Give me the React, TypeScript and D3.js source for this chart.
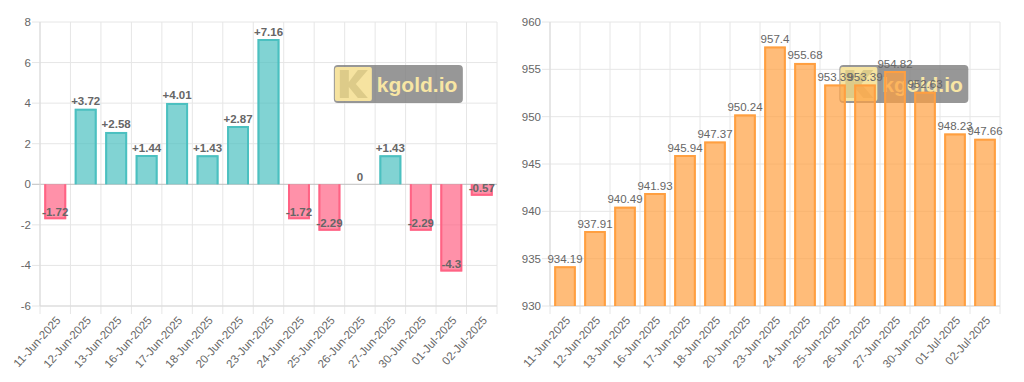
import React from "react";
import * as d3 from "d3";

const dates = [
  "11-Jun-2025", "12-Jun-2025", "13-Jun-2025", "16-Jun-2025", "17-Jun-2025",
  "18-Jun-2025", "20-Jun-2025", "23-Jun-2025", "24-Jun-2025", "25-Jun-2025",
  "26-Jun-2025", "27-Jun-2025", "30-Jun-2025", "01-Jul-2025", "02-Jul-2025",
];
const changes = [-1.72, 3.72, 2.58, 1.44, 4.01, 1.43, 2.87, 7.16, -1.72, -2.29, 0, 1.43, -2.29, -4.3, -0.57];
const prices = [934.19, 937.91, 940.49, 941.93, 945.94, 947.37, 950.24, 957.4, 955.68, 953.39, 953.39, 954.82, 952.63, 948.23, 947.66];
const changeTicks = [-6, -4, -2, 0, 2, 4, 6, 8];
const priceTicks = [930, 935, 940, 945, 950, 955, 960];

const FONT = "'Liberation Sans', Arial, Helvetica, sans-serif";
const GRID = "#e6e6e6";

type ChartProps = {
  x0: number; x1: number; y0: number; y1: number;
  values: number[]; ticks: number[]; domain: [number, number];
  colorFor: (v: number) => { fill: string; stroke: string };
  fmt: (v: number) => string; bold: boolean; zeroLine?: boolean;
};

function Watermark({ x, y }: { x: number; y: number }) {
  return (
    <g transform={`translate(${x},${y})`}>
      <rect x={0} y={0} width={129} height={38} rx={4} fill="#7d7d7d" opacity={0.8} />
      <rect x={1} y={2} width={37} height={34} rx={2} fill="#f6e3a0" />
      <path d="M6,5 L15,5 L15,17 L24,5 L34,5 L22,19 L34,33 L24,33 L15,22 L15,33 L6,33 Z" fill="#c9b877" opacity={0.55} />
      <text x={43} y={27} fontFamily={FONT} fontWeight="bold" fontSize={21} fill="#f8e6a4">kgold.io</text>
    </g>
  );
}

function BarChart(p: ChartProps) {
  const x = d3.scaleBand<string>().domain(dates).range([p.x0, p.x1]).paddingInner(0).paddingOuter(0);
  const y = d3.scaleLinear().domain(p.domain).range([p.y1, p.y0]);
  const bw = x.bandwidth();
  const barW = bw * 0.72;
  const base = y(Math.max(p.domain[0], Math.min(0, p.domain[1])));
  const edges = dates.map((d) => x(d)!).concat([p.x1]);
  const sw = 2;
  return (
    <g>
      {edges.map((ex, i) => (
        <line key={"v" + i} x1={ex} x2={ex} y1={p.y0} y2={p.y1 + 8} stroke={GRID} strokeWidth={1} />
      ))}
      {p.ticks.map((t) => (
        <line key={"h" + t} x1={p.x0 - 8} x2={p.x1} y1={y(t)} y2={y(t)}
          stroke={p.zeroLine && t === 0 ? "#bfbfbf" : GRID} strokeWidth={1} />
      ))}
      <line x1={p.x0} x2={p.x0} y1={p.y0} y2={p.y1} stroke="#d9d9d9" />
      <line x1={p.x0} x2={p.x1} y1={p.y1} y2={p.y1} stroke="#d9d9d9" />
      {p.ticks.map((t) => (
        <text key={"t" + t} x={p.x0 - 9} y={y(t)} dy="0.35em" textAnchor="end"
          fontFamily={FONT} fontSize={11.5} fill="#666">{t}</text>
      ))}
      {dates.map((d) => {
        const cx = x(d)! + bw / 2;
        return (
          <text key={"x" + d} transform={`translate(${cx + 3},${p.y1 + 12}) rotate(-48)`}
            textAnchor="end" dy="0.35em" fontFamily={FONT} fontSize={11.5} fill="#666">{d}</text>
        );
      })}
      <Watermark x={p.x0 + (p.x1 - p.x0) * 0.643} y={65} />
      {p.values.map((v, i) => {
        const bx = x(dates[i])! + (bw - barW) / 2;
        const yv = y(v);
        const top = Math.min(yv, base);
        const h = Math.abs(yv - base);
        const c = p.colorFor(v);
        if (h === 0) return null;
        const l = bx + sw / 2, r = bx + barW - sw / 2;
        const e = v >= 0 ? yv + sw / 2 : yv - sw / 2;
        return (
          <g key={"b" + i}>
            <rect x={bx} y={top} width={barW} height={h} fill={c.fill} />
            <path d={`M${l},${base} L${l},${e} L${r},${e} L${r},${base}`} fill="none" stroke={c.stroke} strokeWidth={sw} />
          </g>
        );
      })}
      {p.values.map((v, i) => (
        <text key={"l" + i} x={x(dates[i])! + bw / 2} y={y(v) - 7.5} dy="0.35em" textAnchor="middle"
          fontFamily={FONT} fontSize={11.5} fontWeight={p.bold ? "bold" : "normal"} fill="#666">{p.fmt(v)}</text>
      ))}
    </g>
  );
}

export default function App() {
  const fmtChange = (v: number) => (v > 0 ? "+" + v : String(v));
  return (
    <svg width={1024} height={382} style={{ position: "absolute", left: 0, top: 0, background: "#fff" }}>
      <rect x={0} y={0} width={1024} height={382} fill="#fff" />
      <BarChart x0={40} x1={497} y0={22} y1={306} values={changes} ticks={changeTicks} domain={[-6, 8]}
        colorFor={(v) => v >= 0
          ? { fill: "rgba(75,192,192,0.7)", stroke: "rgb(75,192,192)" }
          : { fill: "rgba(255,99,132,0.7)", stroke: "rgb(255,99,132)" }}
        fmt={fmtChange} bold={true} zeroLine={true} />
      <BarChart x0={550} x1={1000} y0={22} y1={306} values={prices} ticks={priceTicks} domain={[930, 960]}
        colorFor={() => ({ fill: "rgba(255,159,64,0.7)", stroke: "rgb(255,159,64)" })}
        fmt={(v) => String(v)} bold={false} />
    </svg>
  );
}
